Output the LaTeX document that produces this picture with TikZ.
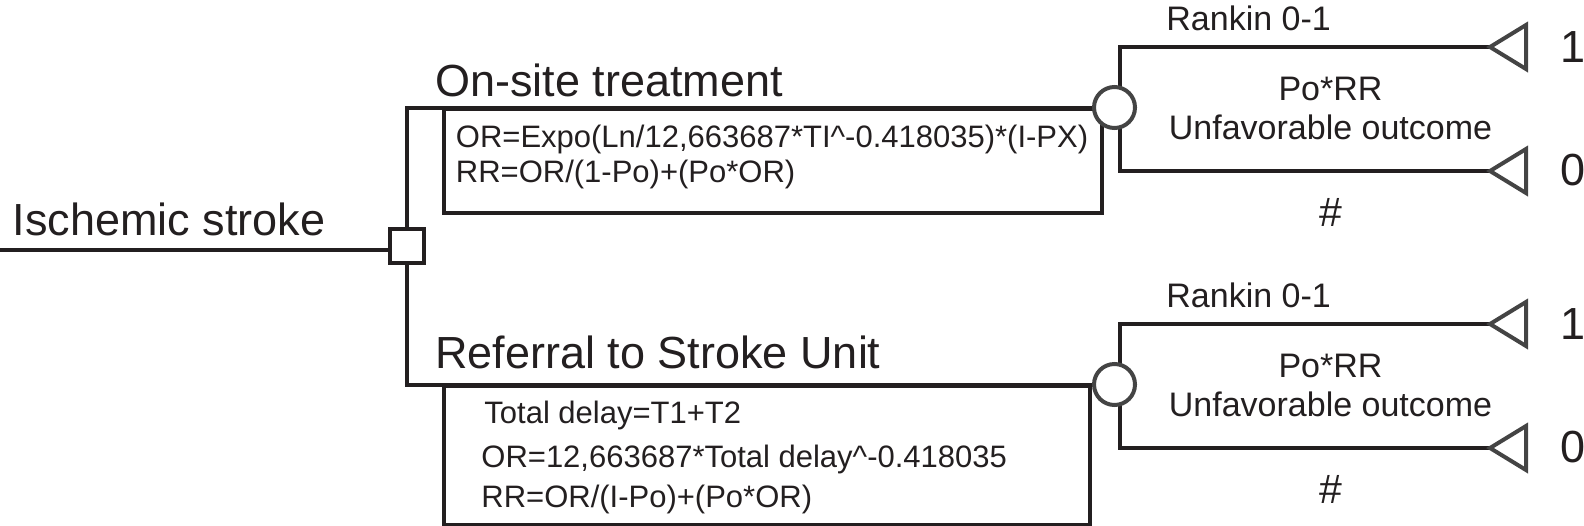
\documentclass[tikz,border=0pt]{standalone}
\usepackage{fontspec}
\setmainfont{Liberation Sans}
\usetikzlibrary{backgrounds}
\definecolor{ink}{RGB}{35,31,32}
\definecolor{symc}{RGB}{68,68,68}
\newcommand{\fbigtxt}{\fontsize{22.5pt}{27pt}\selectfont}
\newcommand{\fhashtxt}{\fontsize{20.5pt}{24pt}\selectfont}
\newcommand{\fmidtxt}{\fontsize{17pt}{20pt}\selectfont}
\newcommand{\fformtxt}{\fontsize{15.5pt}{18pt}\selectfont}
\begin{document}
\begin{tikzpicture}[x=0.5pt,y=-0.5pt,
  ln/.style={draw=ink, line width=2pt},
  sym/.style={draw=symc, line width=2pt, fill=white, line join=miter},
  decnode/.style={rectangle, draw=ink, line width=2pt, fill=white, minimum size=17pt, inner sep=0pt},
  chance/.style={circle, draw=symc, line width=2pt, fill=white, minimum size=20.5pt, inner sep=0pt},
  formbox/.style={rectangle, draw=ink, line width=2pt, inner sep=0pt, anchor=north west},
  lbl/.style={inner sep=0pt, anchor=base west, text=ink},
  clbl/.style={inner sep=0pt, anchor=base, text=ink, font=\fmidtxt}]
\useasboundingbox (0,0) rectangle (1584,525);

% decision node and formula boxes
\node[decnode] (sq) at (406.5,245.5) {};
\node[formbox, minimum width=329pt, minimum height=52pt] (box1) at (442,107) {};
\node[formbox, minimum width=323pt, minimum height=69.3pt] (box2) at (442,384) {};

% texts on the left
\node[lbl, font=\fbigtxt] (is) at (12.5,235) {Ischemic stroke};
\node[lbl, font=\fbigtxt] (on) at (435,96) {On-site treatment};
\node[lbl, font=\fbigtxt] (ref) at (435,368) {Referral to Stroke Unit};
\node[lbl, font=\fformtxt] (f1a) at (455.5,147) {OR=Expo(Ln/12,663687*TI\textasciicircum-0.418035)*(I-PX)};
\node[lbl, font=\fformtxt] (f1b) at (455.5,182) {RR=OR/(1-Po)+(Po*OR)};
\node[lbl, font=\fformtxt] (f2a) at (484,423) {Total delay=T1+T2};
\node[lbl, font=\fformtxt] (f2b) at (481,467) {OR=12,663687*Total delay\textasciicircum-0.418035};
\node[lbl, font=\fformtxt] (f2c) at (481,507) {RR=OR/(I-Po)+(Po*OR)};

% chance nodes, terminal nodes and their labels
\foreach \n/\dy in {1/0,2/277} {
  \node[chance] (c\n) at (1114.5,107.5+\dy) {};
  \coordinate (j\n) at (1119.5,107+\dy);
  \coordinate (ua\n) at (1490,47+\dy);
  \coordinate (ub\n) at (1490,171+\dy);
  \draw[sym] (ua\n) -- ++(36,-22) -- ++(0,44) -- cycle;
  \draw[sym] (ub\n) -- ++(36,-22) -- ++(0,44) -- cycle;
  \node[lbl, font=\fmidtxt] (rk\n) at (1166,30.7+\dy) {Rankin 0-1};
  \node[clbl] (po\n) at (1330.5,100+\dy) {Po*RR};
  \node[clbl] (uf\n) at (1330.5,139+\dy) {Unfavorable outcome};
  \node[clbl, font=\fhashtxt] (hs\n) at (1330.5,226+\dy) {\#};
  \node[clbl, font=\fbigtxt] (one\n) at (1572.5,62+\dy) {1};
  \node[clbl, font=\fbigtxt] (zero\n) at (1572.5,185+\dy) {0};
}

% connectors
\begin{pgfonlayer}{background}
\coordinate (st) at (0,250);
\draw[ln] (st) -- (st -| sq.west);
\draw[ln] (c1.west) -| (sq.north);
\draw[ln] (c2.west) -| (sq.south);
\foreach \n in {1,2} {
  \draw[ln] (ua\n) -| (j\n) |- (ub\n);
}
\end{pgfonlayer}
\end{tikzpicture}
\end{document}
